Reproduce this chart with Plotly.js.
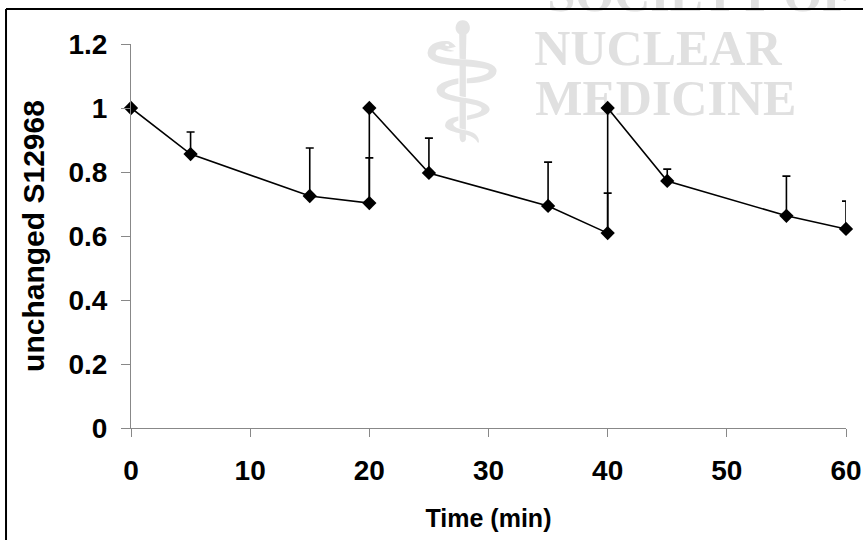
<!DOCTYPE html>
<html>
<head>
<meta charset="utf-8">
<script src="https://cdn.plot.ly/plotly-3.0.1.min.js"></script>
<style>html,body{margin:0;padding:0;background:#fff;}#chart{width:863px;height:540px;}</style>
</head>
<body>
<div id="chart"></div>
<script>
// Data
const timeMin = [0, 5, 15, 20, 20, 25, 35, 40, 40, 45, 55, 60];
const unchanged = [1.0, 0.856, 0.725, 0.703, 1.0, 0.797, 0.694, 0.609, 1.0, 0.772, 0.663, 0.622];
const errPlus = [0, 0.069, 0.150, 0.141, 0, 0.109, 0.137, 0.125, 0, 0.037, 0.124, 0.087];
const xTicks = [0, 10, 20, 30, 40, 50, 60];
const yTicks = [0, 0.2, 0.4, 0.6, 0.8, 1, 1.2];
const yTickText = ['0', '0.2', '0.4', '0.6', '0.8', '1', '1.2'];

const trace = {
  x: timeMin,
  y: unchanged,
  type: 'scatter',
  mode: 'lines+markers',
  line: {color: '#000', width: 1.6},
  marker: {symbol: 'diamond', size: 11, color: '#000'},
  error_y: {type: 'data', symmetric: false, array: errPlus, arrayminus: errPlus.map(() => 0),
            color: '#000', thickness: 1.6, width: 4},
  cliponaxis: false,
  showlegend: false
};

const wmFont = {family: 'Liberation Serif, Times New Roman, serif', size: 50, color: '#e0e0e0', weight: 'bold'};
function wm(text, cx, cy, font) {
  return {type: 'rect', xref: 'paper', yref: 'paper', layer: 'below',
          x0: cx - 0.05, x1: cx + 0.05, y0: cy - 0.02, y1: cy + 0.02,
          line: {width: 0}, fillcolor: 'rgba(0,0,0,0)',
          label: {text: text, textposition: 'middle center', font: font}};
}

const tickFont = {family: 'Liberation Sans, Arial, sans-serif', size: 28, color: '#000', weight: 'bold'};
const layout = {
  width: 863, height: 540,
  margin: {l: 131, r: 17, t: 44, b: 112},
  paper_bgcolor: '#fff', plot_bgcolor: 'rgba(0,0,0,0)',
  font: {family: 'Liberation Sans, Arial, sans-serif'},
  xaxis: {
    range: [0, 60], tickvals: xTicks, ticktext: xTicks.map(String),
    showgrid: false, zeroline: false, showline: true, linecolor: '#888', linewidth: 1,
    ticks: 'outside', ticklen: 8, tickcolor: '#888', tickwidth: 1, ticklabelstandoff: 9,
    tickfont: tickFont,
    title: {text: '<b>Time (min)</b>', font: {family: 'Liberation Sans, Arial, sans-serif', size: 25, color: '#000'}, standoff: 24}
  },
  yaxis: {
    range: [0, 1.2], tickvals: yTicks, ticktext: yTickText,
    showgrid: false, zeroline: false, showline: true, linecolor: '#888', linewidth: 1,
    ticks: 'outside', ticklen: 9, tickcolor: '#888', tickwidth: 1, ticklabelstandoff: 8,
    tickfont: tickFont,
    title: {text: '<b>unchanged S12968</b>', font: {family: 'Liberation Sans, Arial, sans-serif', size: 30, color: '#000'}, standoff: 14}
  },
  shapes: [
    wm('SOCIETY OF', 0.796, 1.142, wmFont),
    wm('NUCLEAR', 0.737, 1.003, wmFont),
    wm('MEDICINE', 0.748, 0.873, wmFont),
    wm('⚕', 0.463, 0.927, {family: 'DejaVu Sans', size: 165, color: '#e4e4e4'}),
    {type: 'line', xref: 'paper', yref: 'paper', x0: -0.1748, x1: -0.1748, y0: 1.0911, y1: -0.35, line: {color: '#000', width: 2}},
    {type: 'line', xref: 'paper', yref: 'paper', x0: -0.1748, x1: 1.1, y0: 1.0911, y1: 1.0911, line: {color: '#000', width: 2}}
  ]
};

Plotly.newPlot('chart', [trace], layout, {staticPlot: true, displayModeBar: false});
</script>
</body>
</html>
